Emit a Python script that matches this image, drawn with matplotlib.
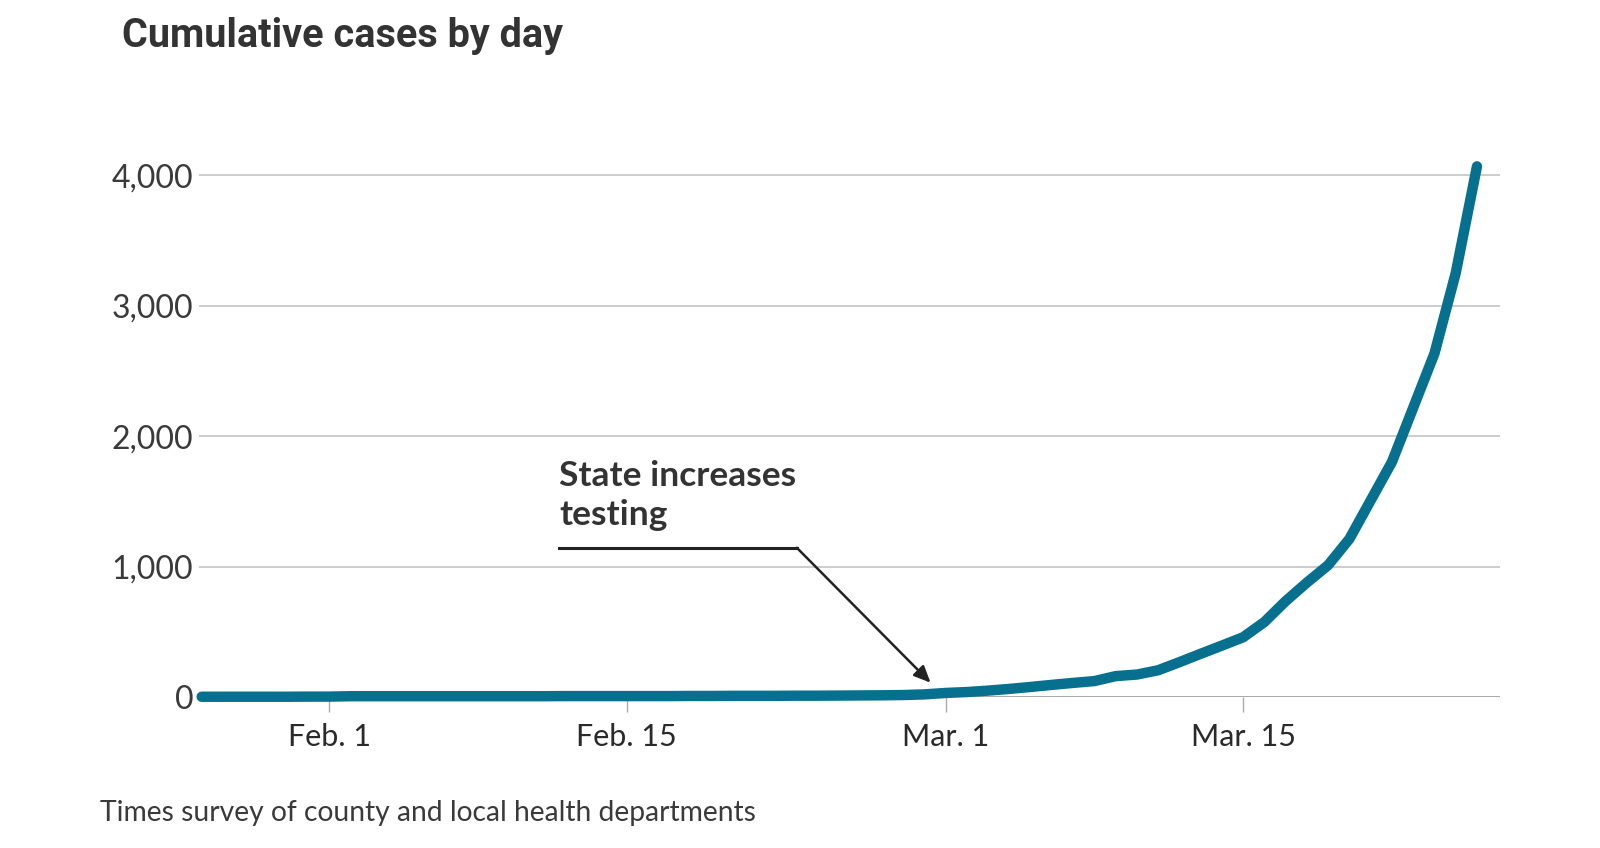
import matplotlib
matplotlib.use('Agg')
import matplotlib.pyplot as plt
import pandas as pd

# cumulative California cases, one value per day Jan 26 -> Mar 26, 2020
start_day = '2020-01-26'
cases = [2, 2, 2, 2, 2, 3,
         3, 6, 6, 6, 6, 6, 6, 6, 6, 6, 6, 7, 7, 7,
         7, 7, 7, 8, 8, 9, 9, 9, 10, 10, 11, 12, 13, 15, 20,
         31, 38, 49, 62, 77, 93, 108, 122, 160, 172, 205, 267, 331, 394,
         458, 575, 735, 877, 1011, 1212, 1507, 1802, 2217, 2633, 3249, 4067]
dates = pd.date_range(start_day, periods=len(cases), freq='D')

y_ticks = [0, 1000, 2000, 3000, 4000]
y_labels = ['0', '1,000', '2,000', '3,000', '4,000']
x_ticks = pd.to_datetime(['2020-02-01', '2020-02-15', '2020-03-01', '2020-03-15'])
x_labels = ['Feb. 1', 'Feb. 15', 'Mar. 1', 'Mar. 15']

title = 'Cumulative cases by day'
note = 'State increases\ntesting'
source = 'Times survey of county and local health departments'

line_color = '#07708f'
text_color = '#333333'
fam = ['Lato', 'DejaVu Sans']

fig = plt.figure(figsize=(16, 8.48), dpi=100)
ax = fig.add_axes([199 / 1600, (848 - 697) / 848, (1500 - 199) / 1600, 548 / 848])

ax.set_xlim(dates[0] - pd.Timedelta(hours=3), dates[-1] + pd.Timedelta(hours=26))
ax.set_ylim(0, 4200)

for v in y_ticks[1:]:
    ax.axhline(v, color='#c4c4c4', lw=1.2, zorder=1)
ax.axhline(0, color='#9a9a9a', lw=1.2, zorder=1)

ax.plot(dates, cases, color=line_color, lw=7.5, solid_capstyle='round',
        solid_joinstyle='round', zorder=3, clip_on=False)

for s in ax.spines.values():
    s.set_visible(False)

ax.set_yticks(y_ticks)
ax.set_yticklabels(y_labels, family=fam, fontsize=23, color='#3a3a3a')
ax.tick_params(axis='y', length=0, pad=4)
ax.set_xticks(x_ticks)
ax.set_xticklabels(x_labels, family=fam, fontsize=22, color='#2a2a2a')
ax.tick_params(axis='x', length=11, width=1, color='#aaaaaa', pad=8)

# annotation: elbow line from the label down to Mar. 1
ax.plot([pd.Timestamp('2020-02-11 20:00'), pd.Timestamp('2020-02-23')], [1144, 1144],
        color='#222222', lw=2.2, zorder=4)
ax.annotate('', xy=(pd.Timestamp('2020-02-29 07:00'), 110), xytext=(pd.Timestamp('2020-02-23'), 1144),
            arrowprops=dict(arrowstyle='-|>,head_length=1.0,head_width=0.45', color='#222222',
                            lw=1.8, shrinkA=0, shrinkB=0, facecolor='#555555'), zorder=4)
ax.text(pd.Timestamp('2020-02-11 20:00'), 1543, note, family=fam,
        fontweight='bold', fontsize=25.5, color=text_color, va='center', ha='left', linespacing=1.27)

fig.text(122 / 1600, 1 - 36 / 848, title, family=['Roboto', 'DejaVu Sans'], fontweight='bold',
         fontsize=28.5, color=text_color, va='center', ha='left')
fig.text(100 / 1600, 1 - 813 / 848, source, family=fam, fontsize=20.3,
         color='#3a3a3a', va='center', ha='left')

fig.savefig('out.png', dpi=100, facecolor='white')
